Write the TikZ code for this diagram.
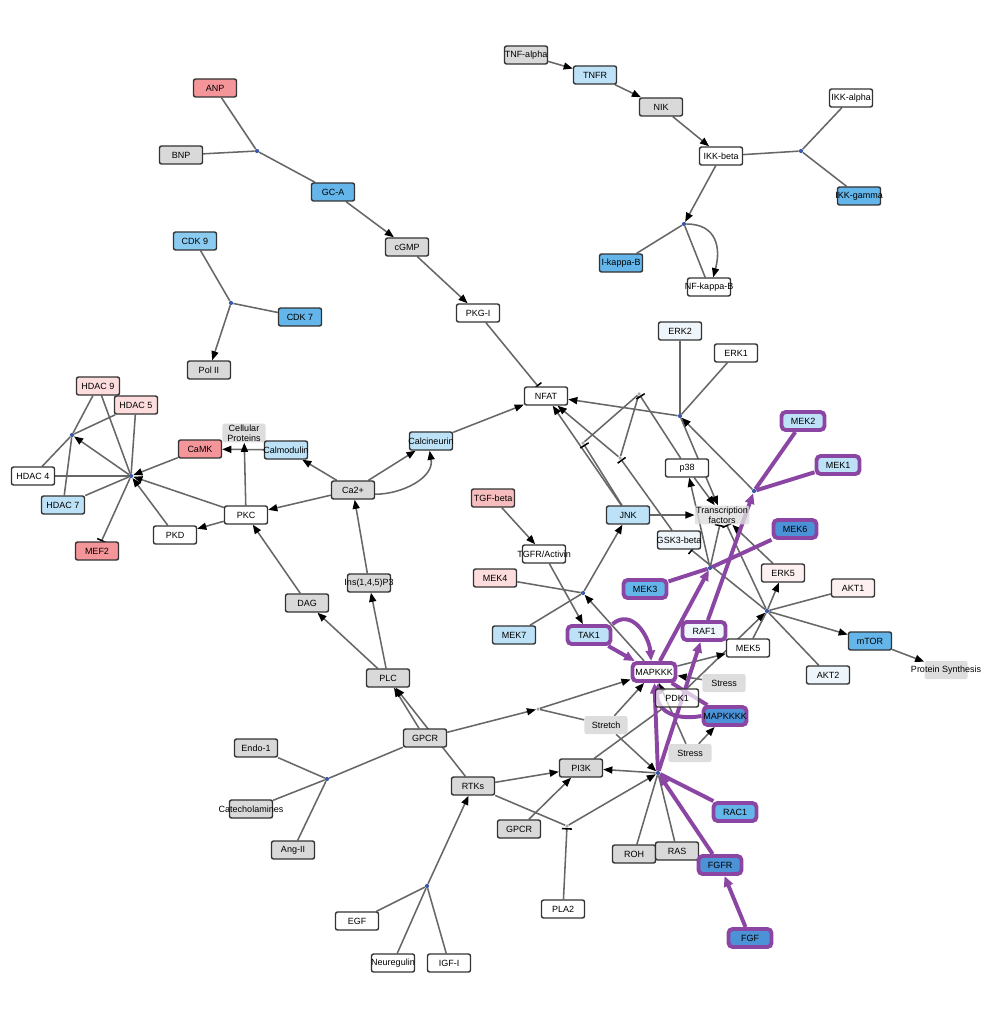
\documentclass[tikz,border=0pt]{standalone}
\usepackage{fontspec}
\setmainfont{Liberation Sans}
\usetikzlibrary{arrows.meta}
\pgfdeclarelayer{bg}
\pgfsetlayers{bg,main}
\definecolor{cred}{HTML}{F4959A}
\definecolor{cpink}{HTML}{FCDCDD}
\definecolor{cpinkd}{HTML}{F7BDBE}
\definecolor{cpale}{HTML}{FDF0F0}
\definecolor{cgray}{HTML}{D9D9D9}
\definecolor{ctag}{HTML}{DDDDDD}
\definecolor{cbluel}{HTML}{BDE2F7}
\definecolor{cbluecdk}{HTML}{8CCBF1}
\definecolor{cbluem}{HTML}{63B5EA}
\definecolor{cblued}{HTML}{4B92D6}
\definecolor{cbluevl}{HTML}{EEF6FC}
\definecolor{hubc}{HTML}{3B5BA9}
\definecolor{linec}{HTML}{676767}
\definecolor{hlc}{HTML}{8B46A3}
\newcommand\ovtext[1]{\makebox[0pt]{#1}}

\begin{document}
\begin{tikzpicture}[x=0.025cm, y=-0.025cm, font=\fontsize{6.4}{7}\selectfont,
    box/.style = {draw=black!80, rounded corners=1.5pt, line width=1pt, minimum width=30.6pt, minimum height=12.8pt, inner sep=1pt},
    tag/.style = {fill=ctag, rounded corners=1.5pt, minimum width=30.6pt, minimum height=12.8pt, inner sep=1pt, align=center},
    hl/.style = {draw=hlc, line width=2.8pt, rounded corners=3pt},
    hub/.style = {circle, fill=hubc, inner sep=0pt, minimum size=3pt},
    anc/.style = {circle, fill=black!35, inner sep=0pt, minimum size=2.5pt},
    lnk/.style = {draw=linec, line width=1.1pt},
    act/.style = {lnk, -{Triangle[length=6.5pt, width=5pt, color=black]}},
    inh/.style = {lnk, -{Bar[width=7pt, color=black]}},
    plk/.style = {draw=hlc, line width=2.8pt},
    pact/.style = {plk, -{Triangle[length=7.5pt, width=6.5pt]}}]
    \useasboundingbox (0,0) rectangle (1000,1017);

    % natriuretic peptides and CDKs
    \node[box, fill=cred] (anp) at (215,88) {ANP};
    \node[box, fill=cgray] (bnp) at (181,155) {BNP};
    \node[hub] (hnp) at (257,151) {};
    \node[box, fill=cbluem] (gca) at (333,192) {GC-A};
    \node[box, fill=cgray] (cgmp) at (407,247) {cGMP};
    \node[box, fill=white] (pkgi) at (478,313) {PKG-I};
    \node[box, fill=cbluecdk] (cdk9) at (195,241) {CDK 9};
    \node[hub] (hcdk) at (231,303) {};
    \node[box, fill=cbluem] (cdk7) at (300,317) {CDK 7};
    \node[box, fill=cgray] (pol2) at (209,370) {Pol II};

    % TNF branch
    \node[box, fill=cgray] (tnfa) at (526,55) {\ovtext{TNF-alpha}};
    \node[box, fill=cbluel] (tnfr) at (595,75) {TNFR};
    \node[box, fill=cgray] (nik) at (661,107) {NIK};
    \node[box, fill=white] (ikkb) at (721,156) {IKK-beta};
    \node[hub] (hikk) at (801,151) {};
    \node[box, fill=white] (ikka) at (851,98) {IKK-alpha};
    \node[box, fill=cbluem] (ikkg) at (859,196) {\ovtext{IKK-gamma}};
    \node[hub] (hnf) at (684,224) {};
    \node[box, fill=cbluem] (ikb) at (621,263) {I-kappa-B};
    \node[box, fill=white] (nfkb) at (709,287) {\ovtext{NF-kappa-B}};

    % HDACs and calcium
    \node[box, fill=cpink] (hdac9) at (98,386) {HDAC 9};
    \node[box, fill=cpink] (hdac5) at (136,405) {HDAC 5};
    \node[hub] (hhdaca) at (72,435) {};
    \node[box, fill=white] (hdac4) at (33,476) {HDAC 4};
    \node[box, fill=cbluel] (hdac7) at (63,505) {HDAC 7};
    \node[hub] (hhdac) at (131,476) {};
    \node[box, fill=cred] (mef2) at (97,551) {MEF2};
    \node[box, fill=cred] (camk) at (200,449) {CaMK};
    \node[tag, font=\fontsize{6.4}{6.8}\selectfont] (cellp) at (244,433) {Cellular\\Proteins};
    \node[box, fill=cbluel] (calm) at (286,450) {\ovtext{Calmodulin}};
    \node[box, fill=white] (pkc) at (246,515) {PKC};
    \node[box, fill=white] (pkd) at (175,535) {PKD};
    \node[box, fill=cgray] (ca2) at (353,490) {Ca2+};
    \node[box, fill=cbluel] (calcin) at (431,441) {\ovtext{Calcineurin}};
    \node[box, fill=white] (nfat) at (546,396) {NFAT};
    \node[box, fill=cgray] (dag) at (307,603) {DAG};
    \node[box, fill=cgray] (ip3) at (369,583) {\ovtext{Ins(1,4,5)P3}};
    \node[box, fill=cgray] (plc) at (388,678) {PLC};

    % receptors
    \node[box, fill=cgray] (gpcr) at (425,738) {GPCR};
    \node[box, fill=cgray] (endo) at (256,748) {Endo-1};
    \node[box, fill=cgray] (catec) at (251,809) {\ovtext{Catecholamines}};
    \node[box, fill=cgray] (ang2) at (293,850) {Ang-II};
    \node[hub] (hgpcr) at (327,779) {};
    \node[box, fill=cgray] (rtks) at (473,786) {RTKs};
    \node[box, fill=white] (egf) at (357,921) {EGF};
    \node[box, fill=white] (nrg) at (393,963) {\ovtext{Neuregulin}};
    \node[box, fill=white] (igf) at (449,963) {IGF-I};
    \node[hub] (hrtk) at (427,886) {};
    \node[box, fill=cgray] (pi3k) at (581,768) {PI3K};
    \node[box, fill=cgray] (gpcrb) at (519,829) {GPCR};
    \node[anc] (hpla) at (567,826) {};
    \node[box, fill=white] (pla2) at (563,909) {PLA2};
    \node[hub] (hpi3k) at (658,773) {};
    \node[box, fill=cgray] (roh) at (634,854) {ROH};
    \node[box, fill=cgray] (ras) at (677,851) {RAS};
    \node[box, hl, fill=cbluem] (rac1) at (735,812) {RAC1};
    \node[box, hl, fill=cblued] (fgfr) at (720,865) {FGFR};
    \node[box, hl, fill=cblued] (fgf) at (750,938) {FGF};

    % MAP kinase cascade
    \node[tag] (stretch) at (606,725) {Stretch};
    \node[anc] (hstr) at (538,709) {};
    \node[tag] (stressa) at (724,683) {Stress};
    \node[tag] (stressb) at (690,753) {Stress};
    \node[box, fill=white, fill opacity=0.7, text opacity=1] (pdk1) at (677,698) {PDK1};
    \node[box, hl, fill=white] (mapkkk) at (654,672) {MAPKKK};
    \node[box, hl, fill=cblued] (mapkkkk) at (725,716) {\ovtext{MAPKKKK}};
    \node[box, hl, fill=cbluel] (tak1) at (589,635) {TAK1};
    \node[box, fill=cbluel] (mek7) at (514,635) {MEK7};
    \node[box, fill=cpink] (mek4) at (495,578) {MEK4};
    \node[box, fill=cpinkd] (tgfb) at (493,498) {TGF-beta};
    \node[box, fill=white] (tgfr) at (544,554) {\ovtext{TGFR/Activin}};
    \node[hub] (hmek47) at (583,593) {};
    \node[box, fill=cbluel] (jnk) at (628,515) {JNK};
    \node[box, fill=cbluevl] (gsk3b) at (679,540) {\ovtext{GSK3-beta}};
    \node[box, fill=white] (p38) at (687,468) {p38};
    \node[tag, fill opacity=0.8, text opacity=1, font=\fontsize{6.4}{6.8}\selectfont] (tf) at (722,515) {Transcription\\factors};
    \node[box, fill=cbluevl] (erk2) at (680,331) {ERK2};
    \node[box, fill=white] (erk1) at (736,353) {ERK1};
    \node[hub] (herk) at (680,416) {};
    \node[anc] (anf1) at (639,394) {};
    \node[anc] (anf2) at (583,443) {};
    \node[anc] (anf3) at (620,458) {};
    \node[box, hl, fill=cbluel] (mek2) at (803,421) {MEK2};
    \node[box, hl, fill=cbluel] (mek1) at (838,465) {MEK1};
    \node[hub] (hmek12) at (754,491) {};
    \node[box, hl, fill=cblued] (mek6) at (795,529) {MEK6};
    \node[box, hl, fill=cbluem] (mek3) at (645,589) {MEK3};
    \node[hub] (hmek36) at (710,568) {};
    \node[box, hl, fill=cbluevl] (raf1) at (704,631) {RAF1};
    \node[box, fill=white] (mek5) at (748,648) {MEK5};
    \node[box, fill=cpale] (erk5) at (783,573) {ERK5};
    \node[box, fill=cpale] (akt1) at (853,588) {AKT1};
    \node[box, fill=cbluevl] (akt2) at (828,675) {AKT2};
    \node[box, fill=cbluem] (mtor) at (870,641) {mTOR};
    \node[tag] (protsyn) at (946,670) {\ovtext{Protein Synthesis}};
    \node[hub] (herk5) at (767,611) {};

    \begin{pgfonlayer}{bg}
    \draw[lnk] (anp) -- (hnp);
    \draw[lnk] (bnp) -- (hnp);
    \draw[lnk] (hnp) -- (gca);
    \draw[act] (gca) -- (cgmp);
    \draw[act] (cgmp) -- (pkgi);
    \draw[inh] (pkgi) -- (nfat);
    \draw[lnk] (cdk9) -- (hcdk);
    \draw[lnk] (cdk7) -- (hcdk);
    \draw[act] (hcdk) -- (pol2);

    \draw[act] (tnfa) -- (tnfr);
    \draw[act] (tnfr) -- (nik);
    \draw[act] (nik) -- (ikkb);
    \draw[lnk] (ikkb) -- (hikk);
    \draw[lnk] (hikk) -- (ikka);
    \draw[lnk] (hikk) -- (ikkg);
    \draw[act] (ikkb) -- (hnf);
    \draw[lnk] (hnf) -- (ikb);
    \draw[lnk] (hnf) -- (nfkb);
    \draw[act] (hnf) to[out=0, in=75, looseness=1.3] ([xshift=3pt]nfkb.north);

    \draw[lnk] (hhdaca) -- (hdac9);
    \draw[lnk] (hhdaca) -- (hdac5);
    \draw[lnk] (hhdaca) -- (hdac4);
    \draw[lnk] (hhdaca) -- (hdac7);
    \draw[lnk] (hhdac) -- (hdac9);
    \draw[lnk] (hhdac) -- (hdac5);
    \draw[lnk] (hhdac) -- (hdac4);
    \draw[lnk] (hhdac) -- (hdac7);
    \draw[inh] (hhdac) -- (mef2);
    \draw[act] (hhdac) -- (hhdaca);
    \draw[act] (camk) -- (hhdac);
    \draw[act] (pkc) -- (hhdac);
    \draw[act] (pkd) -- (hhdac);
    \draw[act] (calm) -- (camk);
    \draw[act] (pkc) -- (cellp);
    \draw[act] (pkc) -- (pkd);
    \draw[act] (ca2) -- (pkc);
    \draw[act] (ca2) -- (calm);
    \draw[act] (ca2) -- (calcin);
    \draw[act] ([yshift=-3pt]ca2.east) to[out=0, in=-80] ([xshift=-1pt]calcin.south);
    \draw[act] (calcin) -- (nfat);
    \draw[act] (dag) -- (pkc);
    \draw[act] (ip3) -- (ca2);
    \draw[act] (plc) -- (dag);
    \draw[act] (plc) -- (ip3);
    \draw[act] (gpcr) -- (plc);
    \draw[act] (rtks) -- (plc);

    \draw[lnk] (endo) -- (hgpcr);
    \draw[lnk] (catec) -- (hgpcr);
    \draw[lnk] (ang2) -- (hgpcr);
    \draw[lnk] (hgpcr) -- (gpcr);
    \draw[lnk] (egf) -- (hrtk);
    \draw[lnk] (nrg) -- (hrtk);
    \draw[lnk] (igf) -- (hrtk);
    \draw[act] (hrtk) -- (rtks);
    \draw[act] (gpcr) -- (hstr);
    \draw[lnk] (stretch) -- (hstr);
    \draw[act] (hstr) -- (mapkkk);
    \draw[act] (stretch) -- (mapkkk);
    \draw[act] (rtks) -- (pi3k);
    \draw[act] (gpcrb) -- (pi3k);
    \draw[lnk] (rtks) -- (hpla);
    \draw[act] (hpla) -- (hpi3k);
    \draw[inh] (pla2) -- (hpla);
    \draw[act] (hpi3k) -- (pi3k);
    \draw[lnk] (hpi3k) -- (roh);
    \draw[lnk] (hpi3k) -- (ras);
    \draw[act] (stretch) -- (hpi3k);
    \draw[lnk] (pi3k) -- (pdk1);
    \draw[act] (pdk1) -- (herk5);

    \draw[act] (stressa) -- (mapkkk);
    \draw[act] (stressb) -- (mapkkk);
    \draw[act] (stressb) -- (mapkkkk);
    \draw[act] (mapkkk) -- (hmek47);
    \draw[act] (mapkkk) -- (mek5);
    \draw[act] (tgfb) -- (tgfr);
    \draw[act] (tgfr) -- (tak1);
    \draw[lnk] (mek4) -- (hmek47);
    \draw[lnk] (mek7) -- (hmek47);
    \draw[act] (hmek47) -- (jnk);
    \draw[act] (jnk) -- (nfat);
    \draw[inh] (jnk) -- (anf2);
    \draw[act] (jnk) -- (tf);
    \draw[lnk] (anf2) -- (anf1) -- (anf3);
    \draw[act] (anf3) -- (nfat);
    \draw[inh] (p38) -- (anf1);
    \draw[inh] (gsk3b) -- (anf3);
    \draw[lnk] (erk2) -- (herk);
    \draw[lnk] (erk1) -- (herk);
    \draw[act] (herk) -- (nfat);
    \draw[act] (herk) -- (tf);
    \draw[act] (p38) -- (tf);
    \draw[act] (hmek12) -- (herk);
    \draw[act] (hmek36) -- (p38);
    \draw[inh] (hmek36) -- (tf);
    \draw[act] (erk5) -- (tf);
    \draw[inh] (herk5) -- (tf);
    \draw[inh] (herk5) -- (gsk3b);
    \draw[act] (herk5) -- (erk5);
    \draw[lnk] (herk5) -- (akt1);
    \draw[lnk] (herk5) -- (akt2);
    \draw[act] (herk5) -- (mtor);
    \draw[lnk] (mek5) -- (herk5);
    \draw[act] (mtor) -- (protsyn);

    % highlighted path
    \draw[pact] (fgf) -- (fgfr);
    \draw[pact] (fgfr) -- (hpi3k);
    \draw[plk] (rac1) -- (hpi3k);
    \draw[pact] (hpi3k) -- (mapkkk);
    \draw[pact] (hpi3k) -- (raf1);
    \draw[pact] (raf1) -- (hmek12);
    \draw[plk] (mek2) -- (hmek12);
    \draw[plk] (mek1) -- (hmek12);
    \draw[pact] (mapkkk) -- (hmek36);
    \draw[plk] (mek3) -- (hmek36);
    \draw[plk] (mek6) -- (hmek36);
    \draw[pact] (tak1) -- (mapkkk);
    \draw[pact] (tak1.north east) to[out=40, in=95, looseness=1.2] ([xshift=-2pt]mapkkk.north);
    \draw[plk] (mapkkk) -- (mapkkkk);
    \draw[pact] (mapkkkk.west) to[out=190, in=-95, looseness=1.3] ([xshift=3pt]mapkkk.south);
    \end{pgfonlayer}
\end{tikzpicture}
\end{document}
